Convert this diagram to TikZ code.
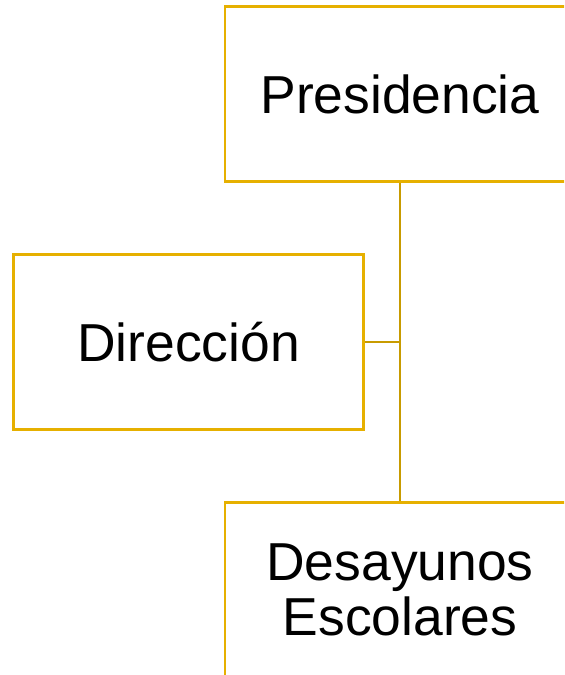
\documentclass[tikz,border=0pt]{standalone}
\usepackage{fontspec}
\setmainfont{Liberation Sans}
\usepackage{tikz}
\usetikzlibrary{positioning}
\definecolor{boxgold}{RGB}{230,176,0}
\definecolor{linkgold}{RGB}{200,155,0}
\tikzset{
        unit/.style={draw=boxgold, line width=1.6pt, rectangle, align=center,
                     minimum width=8.75cm, minimum height=4.37cm,
                     font=\fontsize{38}{39}\selectfont},
        link/.style={draw=linkgold, line width=1.6pt},
 }
\begin{document}
\begin{tikzpicture}[x=0.025cm, y=-0.025cm]
    \useasboundingbox (0,0) rectangle (564,675);
    \clip (0,0) rectangle (564,675);

    \node[unit] (pres) at (400,94) {Presidencia};
    \node[unit] (dir) at (188.5,342) {Dirección};
    \node[unit] (desa) at (400,590) {Desayunos\\Escolares};

    \draw[link] (pres.south) -- (desa.north);
    \draw[link] (dir.east) -- (dir.east -| pres.south);
\end{tikzpicture}
\end{document}
